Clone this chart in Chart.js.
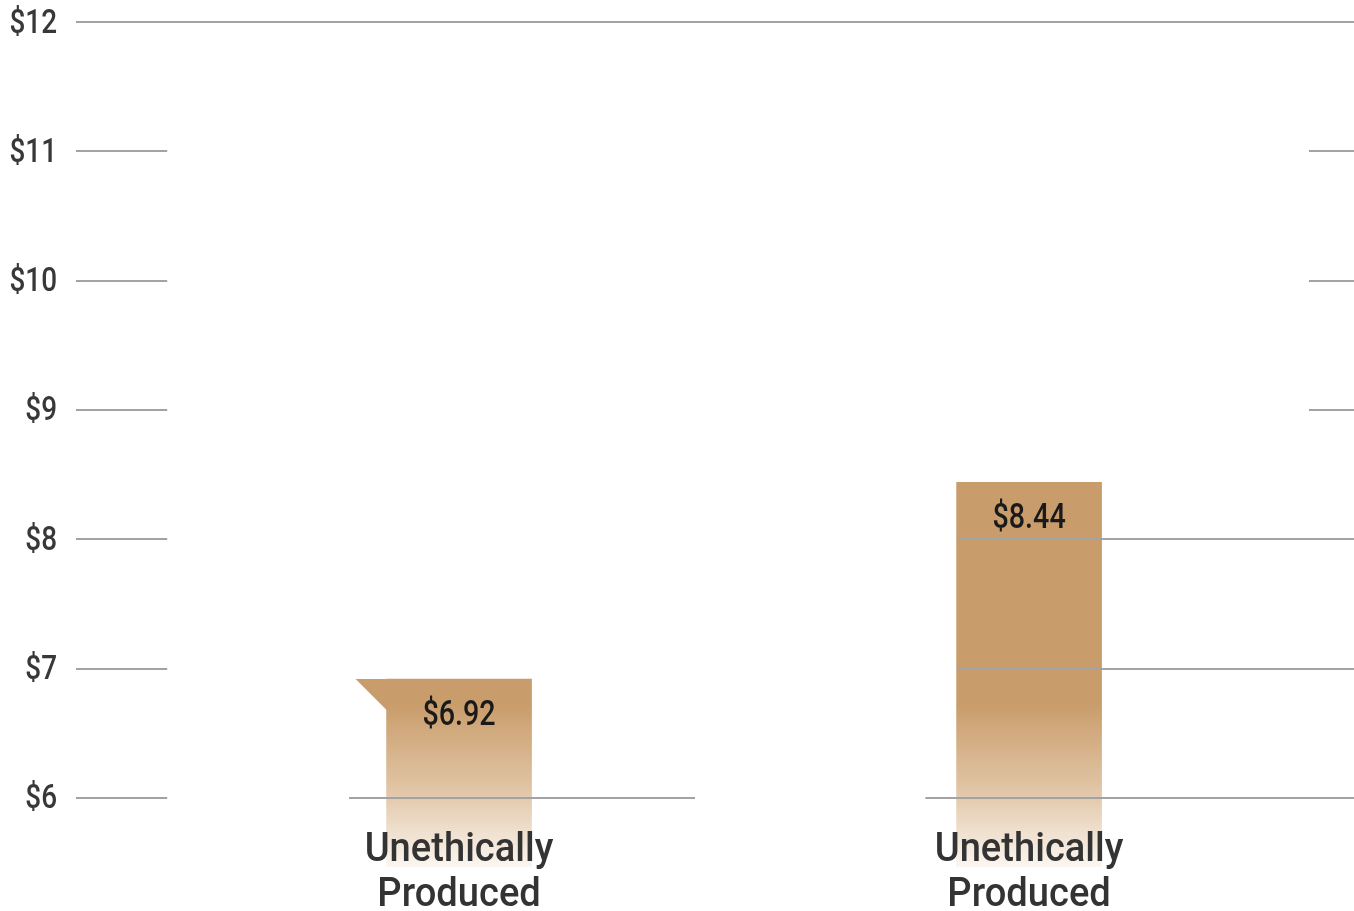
<!DOCTYPE html>
<html>
<head>
<meta charset="utf-8">
<script src="https://cdn.jsdelivr.net/npm/chart.js@4/dist/chart.umd.min.js"></script>
<style>
  html, body { margin: 0; padding: 0; background: #fff; }
  #wrap { width: 1354px; height: 911px; position: relative; }
</style>
</head>
<body>
<div id="wrap"><canvas id="priceChart"></canvas></div>
<script>
const categories = [['Unethically', 'Produced'], ['Unethically', 'Produced']];
const positions = [0, 1];
const prices = [6.92, 8.44];
const yTicks = [6, 7, 8, 9, 10, 11, 12];

const FONT = 'Roboto, "Liberation Sans", sans-serif';

// where each grid line shows through (x in category units, null = plot edge)
const gridSegments = {
  12: [[null, null]],
  11: [[null, -0.512], [1.491, null]],
  10: [[null, -0.512], [1.491, null]],
  9: [[null, -0.512], [1.491, null]],
  8: [[null, -0.512], [0.874, null]],
  7: [[null, -0.512], [0.874, null]],
  6: [[null, -0.512], [-0.193, 0.414], [0.818, null]]
};

function barFill(ctx) {
  const chart = ctx.chart;
  const area = chart.chartArea;
  if (!area) return '#c99d6b';
  const y = chart.scales.y;
  const top = y.getPixelForValue(6.72);
  const g = chart.ctx.createLinearGradient(0, top, 0, area.bottom);
  g.addColorStop(0, '#c99d6b');
  g.addColorStop(0.5, '#e0c3a3');
  g.addColorStop(1, '#fbf6f0');
  return g;
}

// condensed text: squeeze horizontally around the anchor
function squeezeText(ctx, text, x, y, sx, align) {
  ctx.save();
  ctx.translate(x, y);
  ctx.scale(sx, 1);
  ctx.textAlign = align;
  ctx.fillText(text, 0, 0);
  ctx.restore();
}

const decorations = {
  id: 'decorations',
  afterDatasetsDraw(chart) {
    const { ctx, chartArea, scales } = chart;
    const x = scales.x, y = scales.y;
    ctx.save();

    // partial grid lines
    ctx.strokeStyle = '#a3a3a3';
    ctx.lineWidth = 2;
    yTicks.forEach(t => {
      const py = Math.round(y.getPixelForValue(t));
      (gridSegments[t] || []).forEach(([a, b]) => {
        const x0 = a === null ? chartArea.left : x.getPixelForValue(a);
        const x1 = b === null ? chartArea.right : x.getPixelForValue(b);
        ctx.beginPath();
        ctx.moveTo(x0, py);
        ctx.lineTo(x1, py);
        ctx.stroke();
      });
    });

    const meta = chart.getDatasetMeta(0);

    // little folded corner on the first bar
    const b0 = meta.data[0];
    if (b0) {
      const left = b0.x - b0.width / 2;
      ctx.fillStyle = '#c99d6b';
      ctx.beginPath();
      ctx.moveTo(left - 31, b0.y);
      ctx.lineTo(left + 1, b0.y);
      ctx.lineTo(left + 1, b0.y + 32);
      ctx.closePath();
      ctx.fill();
    }

    ctx.textBaseline = 'middle';

    // value labels inside the bar tops
    ctx.fillStyle = '#1a1a1a';
    ctx.font = '500 35px ' + FONT;
    meta.data.forEach((bar, i) => {
      squeezeText(ctx, '$' + prices[i].toFixed(2), bar.x, bar.y + 37, 0.82, 'center');
    });

    // y tick labels
    ctx.fillStyle = '#383838';
    ctx.font = '500 34px ' + FONT;
    yTicks.forEach(t => {
      squeezeText(ctx, '$' + t, chartArea.left - 19, y.getPixelForValue(t) + 2, 0.82, 'right');
    });

    // category labels
    ctx.fillStyle = '#333';
    ctx.font = '500 41px ' + FONT;
    positions.forEach((p, i) => {
      const cx = x.getPixelForValue(p);
      categories[i].forEach((line, j) => {
        squeezeText(ctx, line, cx, chartArea.bottom - 16 + j * 45, 0.93, 'center');
      });
    });

    ctx.restore();
  }
};

new Chart(document.getElementById('priceChart'), {
  type: 'bar',
  data: {
    datasets: [{
      data: positions.map((p, i) => ({ x: p, y: prices[i] })),
      backgroundColor: barFill,
      borderWidth: 0,
      barThickness: 145
    }]
  },
  options: {
    responsive: true,
    maintainAspectRatio: false,
    animation: false,
    layout: { padding: { top: 22, right: 0, left: 76, bottom: 44 } },
    plugins: { legend: { display: false }, tooltip: { enabled: false } },
    scales: {
      x: {
        type: 'linear',
        display: false,
        offset: false,
        min: -0.672,
        max: 1.57,
        grid: { display: false, offset: false }
      },
      y: {
        display: false,
        min: 5.466,
        max: 12
      }
    }
  },
  plugins: [decorations]
});
</script>
</body>
</html>
